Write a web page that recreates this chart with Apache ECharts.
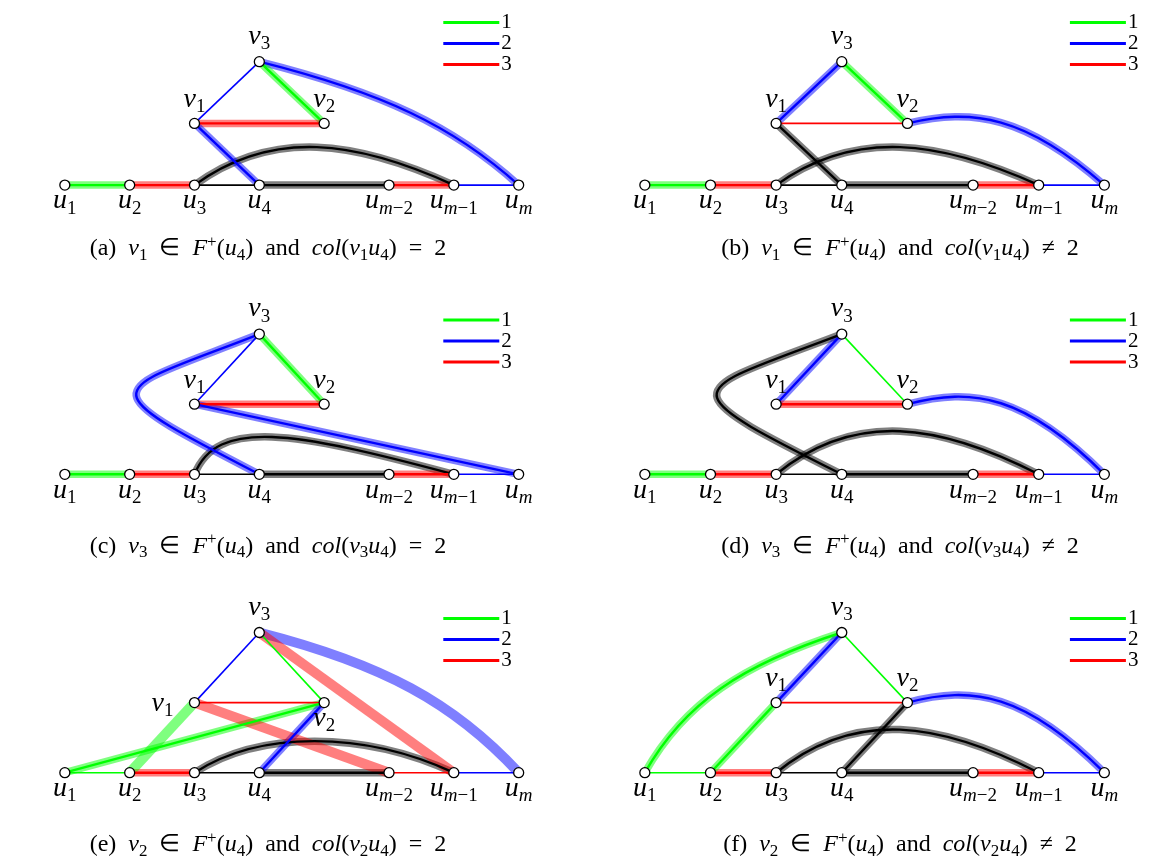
<!DOCTYPE html>
<html><head><meta charset="utf-8">
<script src="https://cdn.jsdelivr.net/npm/echarts@6/dist/echarts.min.js"></script>
<style>html,body{margin:0;padding:0;background:#fff}#c{width:1170px;height:865px}</style>
</head><body><div id="c"></div>
<script>
// ---------- data ----------
const nodeNames = ['u1','u2','u3','u4','um2','um1','um','v1','v2','v3'];
const nodeX = [0,1,2,3,5,6,7,2,4,3];
const nodeY = [0,0,0,0,0,0,0,1,1,2];
const legendNames = ['1','2','3'];

// straight edges: [from, to, colour class (0 = uncoloured), mark (0 plain, 1 path, 2 swapped)]
const edgesA = [['u1','u2',1,1],['u2','u3',3,1],['u3','u4',0,0],['u4','um2',0,1],['um2','um1',3,1],['um1','um',2,0],['v1','v3',2,0],['v3','v2',1,1],['v1','v2',3,1],['v1','u4',2,1]];
const edgesB = [['u1','u2',1,1],['u2','u3',3,1],['u3','u4',0,0],['u4','um2',0,1],['um2','um1',3,1],['um1','um',2,0],['v1','v3',2,1],['v3','v2',1,1],['v1','v2',3,0],['v1','u4',0,1]];
const edgesC = [['u1','u2',1,1],['u2','u3',3,1],['u3','u4',0,0],['u4','um2',0,1],['um2','um1',3,1],['um1','um',2,0],['v1','v3',2,0],['v3','v2',1,1],['v1','v2',3,1],['v1','um',2,1]];
const edgesD = [['u1','u2',1,1],['u2','u3',3,1],['u3','u4',0,0],['u4','um2',0,1],['um2','um1',3,1],['um1','um',2,0],['v1','v3',2,1],['v3','v2',1,0],['v1','v2',3,1]];
const edgesE = [['u1','u2',1,0],['u2','u3',3,1],['u3','u4',0,0],['u4','um2',0,1],['um2','um1',3,0],['um1','um',2,0],['v1','v3',2,0],['v3','v2',1,0],['v1','v2',3,0],['v1','u2',1,2],['u1','v2',1,1],['v2','u4',2,1],['v1','um2',3,2],['v3','um1',3,2]];
const edgesF = [['u1','u2',1,0],['u2','u3',3,1],['u3','u4',0,0],['u4','um2',0,1],['um2','um1',3,1],['um1','um',2,0],['v1','v3',2,1],['v3','v2',1,0],['v1','v2',3,0],['v1','u2',1,1],['v2','u4',0,1]];

// Bezier control points of the curved edges
const ctrlU3Um1 = [[3.2,0.92],[4.5,0.72]];
const ctrlU3Um1C = [[2.35,0.8],[3.5,0.62]];
const ctrlU3Um1E = [[3.0,0.6],[4.6,0.6]];
const ctrlV3UmA = [[4.9,1.5],[6.0,0.95]];
const ctrlV3UmE = [[4.9,1.55],[6.0,1.0]];
const ctrlV2Um = [[5.0,1.25],[5.8,1.12]];
const ctrlV3U4C = [[0.66,1.15],[0.28,1.3]];
const ctrlV3U4D = [[0.62,1.15],[0.3,1.27]];
const ctrlU1V3F = [[0.6,1.0],[1.5,1.55]];

// curved edges: [from, to, colour class, mark, control points]
const curvesA = [['u3','um1',0,1,ctrlU3Um1],['v3','um',2,1,ctrlV3UmA]];
const curvesB = [['u3','um1',0,1,ctrlU3Um1],['v2','um',2,1,ctrlV2Um]];
const curvesC = [['u3','um1',0,1,ctrlU3Um1C],['v3','u4',2,1,ctrlV3U4C]];
const curvesD = [['u3','um1',0,1,ctrlU3Um1],['v2','um',2,1,ctrlV2Um],['v3','u4',0,1,ctrlV3U4D]];
const curvesE = [['u3','um1',0,1,ctrlU3Um1E],['v3','um',2,2,ctrlV3UmE]];
const curvesF = [['u3','um1',0,1,ctrlU3Um1],['v2','um',2,1,ctrlV2Um],['u1','v3',1,1,ctrlU1V3F]];

const captionLetters = ['a','b','c','d','e','f'];
const captionVertex = ['1','1','3','3','2','2'];
const captionRel = ['=','\u2260','=','\u2260','=','\u2260'];

// ---------- layout / style ----------
const U = 70.1;
const origins = [[22.7,176.7],[649.3,176.7],[22.7,474.3],[649.3,474.3],[22.7,772.7],[649.3,772.7]];
const captionCenters = [[268,249],[900,249],[268,546.5],[900,546.5],[268,845],[900,845]];
const classColor = {0:'#000000',1:'#00ff00',2:'#0000ff',3:'#ff0000'};
const edgesAll = [edgesA,edgesB,edgesC,edgesD,edgesE,edgesF];
const curvesAll = [curvesA,curvesB,curvesC,curvesD,curvesE,curvesF];
const MF = 'Liberation Serif';

function pos(n){ const i = nodeNames.indexOf(n); return [nodeX[i], nodeY[i]]; }

const grids=[], xAxes=[], yAxes=[], series=[], legends=[], titles=[];

function strokes(mark){
  if (mark === 0) return [{w:1.6, o:1, z:3}];
  if (mark === 1) return [{w:7.5, o:0.5, z:2},{w:2.4, o:1, z:3}];
  return [{w:10, o:0.5, z:2}];
}
function addEdge(p, pts, cls, mark){
  strokes(mark).forEach(s => series.push({type:'line', xAxisIndex:p, yAxisIndex:p, data:pts, symbol:'none',
    silent:true, animation:false, clip:false, z:s.z, lineStyle:{color:classColor[cls], width:s.w, opacity:s.o}}));
}
function addCurve(p, a, c, b, cls, mark){
  const row = [a[0],a[1],c[0][0],c[0][1],c[1][0],c[1][1],b[0],b[1]];
  strokes(mark).forEach(s => series.push({type:'custom', xAxisIndex:p, yAxisIndex:p, data:[row],
    silent:true, animation:false, clip:false, z:s.z, encode:{x:[0,2,4,6], y:[1,3,5,7]},
    renderItem:(params, api) => {
      const P = k => api.coord([api.value(2*k), api.value(2*k+1)]);
      const p0=P(0), p1=P(1), p2=P(2), p3=P(3);
      return {type:'bezierCurve', shape:{x1:p0[0],y1:p0[1],cpx1:p1[0],cpy1:p1[1],cpx2:p2[0],cpy2:p2[1],x2:p3[0],y2:p3[1]},
        style:{stroke:classColor[cls], lineWidth:s.w, fill:null, opacity:s.o}};
    }}));
}

const labelRich = {
  i:{fontFamily:MF, fontStyle:'italic', fontSize:28, lineHeight:34, color:'#000'},
  s:{fontFamily:MF, fontSize:19, lineHeight:19, verticalAlign:'bottom', color:'#000'},
  si:{fontFamily:MF, fontStyle:'italic', fontSize:19, lineHeight:19, verticalAlign:'bottom', color:'#000'}
};
const labelText = {u1:'{i|u}{s|1}',u2:'{i|u}{s|2}',u3:'{i|u}{s|3}',u4:'{i|u}{s|4}',
  um2:'{i|u}{si|m}{s|\u22122}',um1:'{i|u}{si|m}{s|\u22121}',um:'{i|u}{si|m}',
  v1:'{i|v}{s|1}',v2:'{i|v}{s|2}',v3:'{i|v}{s|3}'};

for (let p=0;p<6;p++){
  const [ox,oy] = origins[p];
  grids.push({left:ox-U, top:oy-3*U, width:9*U, height:4*U, show:false});
  xAxes.push({type:'value', gridIndex:p, min:-1, max:8, show:false});
  yAxes.push({type:'value', gridIndex:p, min:-1, max:3, show:false});
  edgesAll[p].forEach(e => addEdge(p, [pos(e[0]), pos(e[1])], e[2], e[3]));
  curvesAll[p].forEach(c => addCurve(p, pos(c[0]), c[4], pos(c[1]), c[2], c[3]));
  const nodes = nodeNames.map((n,i) => {
    let off;
    if (n[0]==='u') off=[0,16];
    else if (n==='v3') off=[0,-25];
    else off=[0,-24];
    if (p===4 && n==='v1') off=[-32,1];
    if (p===4 && n==='v2') off=[0,16];
    return {value:[nodeX[i],nodeY[i]], name:n, label:{offset:off}};
  });
  series.push({type:'scatter', xAxisIndex:p, yAxisIndex:p, data:nodes, symbol:'circle', symbolSize:10,
    z:5, silent:true, animation:false,
    itemStyle:{color:'#fff', borderColor:'#000', borderWidth:1.3, opacity:1},
    label:{show:true, position:'inside', align:'center', verticalAlign:'middle', color:'#000',
      textBorderWidth:0, formatter: prm => labelText[prm.name], rich:labelRich}});
  legends.push({data:legendNames, orient:'vertical', left:ox+6.0*U, top:oy-2.2*U-10.5, padding:0,
    itemWidth:56, itemHeight:3, itemGap:0, icon:'rect', selectedMode:false,
    textStyle:{fontFamily:MF, fontSize:21, lineHeight:21, color:'#000', padding:[0,0,0,-3]}});
  const l = captionLetters[p], v = captionVertex[p], rel = captionRel[p];
  titles.push({text:`{r|(${l})  }{i|v}{s|${v}}{r|  \u2208  }{i|F}{p|+}{r|(}{i|u}{s|4}{r|)  and  }{i|col}{r|(}{i|v}{s|${v}}{i|u}{s|4}{r|)  ${rel}  2}`,
    left:captionCenters[p][0], top:captionCenters[p][1]-15, textAlign:'center', padding:0,
    textStyle:{fontWeight:'normal', rich:{
      r:{fontFamily:MF, fontWeight:'normal', fontSize:24, lineHeight:30, color:'#000'},
      i:{fontFamily:MF, fontWeight:'normal', fontStyle:'italic', fontSize:24, lineHeight:30, color:'#000'},
      s:{fontFamily:MF, fontWeight:'normal', fontSize:17, lineHeight:17, verticalAlign:'bottom', color:'#000'},
      p:{fontFamily:MF, fontWeight:'normal', fontSize:17, lineHeight:17, verticalAlign:'top', color:'#000'}}}});
}
// legend carriers (colour classes 1, 2, 3)
legendNames.forEach((n,k) => series.push({type:'line', name:n, xAxisIndex:0, yAxisIndex:0, data:[],
  symbol:'none', color:classColor[k+1], lineStyle:{width:2.5}}));

const chart = echarts.init(document.getElementById('c'), null, {renderer:'canvas'});
chart.setOption({animation:false, backgroundColor:'#fff', title:titles, legend:legends,
  grid:grids, xAxis:xAxes, yAxis:yAxes, series:series});
</script></body></html>
